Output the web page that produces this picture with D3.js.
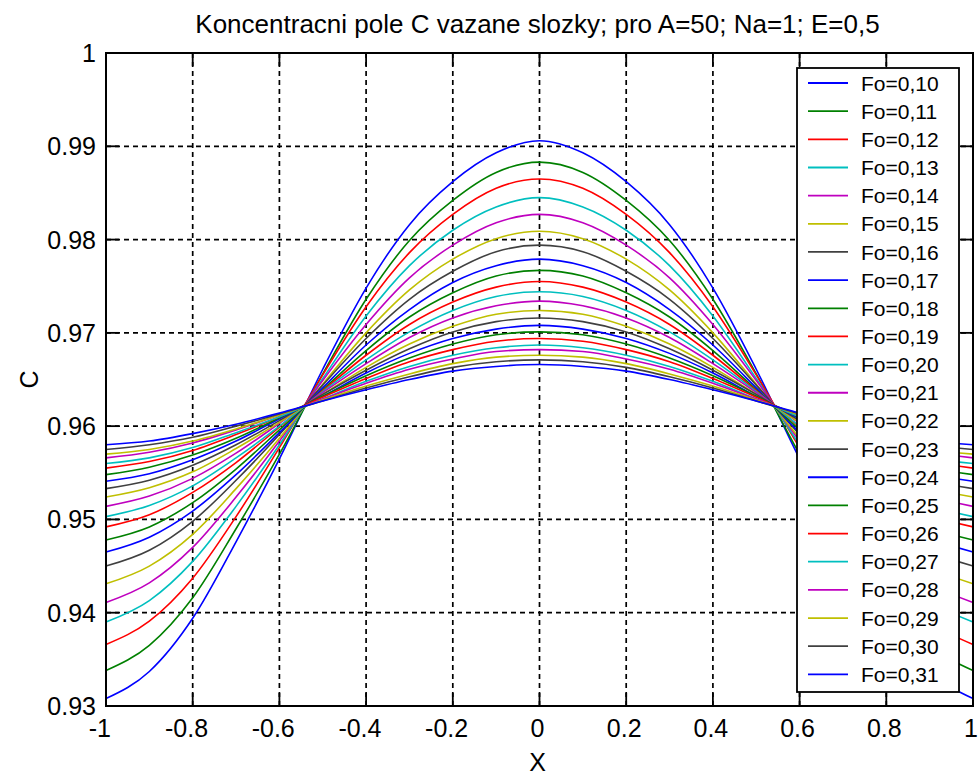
<!DOCTYPE html>
<html>
<head>
<meta charset="utf-8">
<script src="https://cdnjs.cloudflare.com/ajax/libs/d3/7.8.5/d3.min.js"></script>
<style>
  html, body { margin: 0; padding: 0; background: #fff; }
  text { font-family: "Liberation Sans", Arial, sans-serif; fill: #000; }
</style>
</head>
<body>
<div id="wrapper"></div>
<script>
// x positions along the slab
const xValues = [-1, -0.9, -0.8, -0.7, -0.6, -0.5, -0.4, -0.3, -0.2, -0.1, 0,
                 0.1, 0.2, 0.3, 0.4, 0.5, 0.6, 0.7, 0.8, 0.9, 1]

// one C profile per Fourier number
const fo10 = [.9308,.9337,.9394,.9476,.9565,.9661,.9748,.9816,.9862,.9893,.9906,.9893,.9862,.9816,.9748,.9661,.9565,.9476,.9394,.9337,.9308]
const fo11 = [.9338,.9365,.9416,.9490,.9570,.9656,.9736,.9799,.9842,.9872,.9883,.9872,.9842,.9799,.9736,.9656,.9570,.9490,.9416,.9365,.9338]
const fo12 = [.9366,.9391,.9437,.9503,.9577,.9655,.9728,.9786,.9827,.9855,.9865,.9855,.9827,.9786,.9728,.9655,.9577,.9503,.9437,.9391,.9366]
const fo13 = [.9390,.9413,.9455,.9514,.9580,.9651,.9718,.9772,.9810,.9835,.9845,.9835,.9810,.9772,.9718,.9651,.9580,.9514,.9455,.9413,.9390]
const fo14 = [.9411,.9432,.9470,.9524,.9584,.9649,.9709,.9759,.9794,.9818,.9827,.9818,.9794,.9759,.9709,.9649,.9584,.9524,.9470,.9432,.9411]
const fo15 = [.9431,.9450,.9484,.9533,.9587,.9645,.9700,.9746,.9779,.9801,.9809,.9801,.9779,.9746,.9700,.9645,.9587,.9533,.9484,.9450,.9431]
const fo16 = [.9450,.9467,.9498,.9542,.9591,.9644,.9694,.9736,.9766,.9787,.9794,.9787,.9766,.9736,.9694,.9644,.9591,.9542,.9498,.9467,.9450]
const fo17 = [.9465,.9481,.9509,.9548,.9593,.9641,.9687,.9725,.9754,.9772,.9779,.9772,.9754,.9725,.9687,.9641,.9593,.9548,.9509,.9481,.9465]
const fo18 = [.9478,.9492,.9518,.9554,.9596,.9639,.9681,.9717,.9743,.9761,.9767,.9761,.9743,.9717,.9681,.9639,.9596,.9554,.9518,.9492,.9478]
const fo19 = [.9492,.9505,.9529,.9561,.9599,.9638,.9676,.9709,.9733,.9749,.9755,.9749,.9733,.9709,.9676,.9638,.9599,.9561,.9529,.9505,.9492]
const fo20 = [.9503,.9515,.9536,.9566,.9600,.9637,.9671,.9701,.9724,.9739,.9744,.9739,.9724,.9701,.9671,.9637,.9600,.9566,.9536,.9515,.9503]
const fo21 = [.9514,.9525,.9544,.9571,.9603,.9636,.9667,.9695,.9716,.9729,.9734,.9729,.9716,.9695,.9667,.9636,.9603,.9571,.9544,.9525,.9514]
const fo22 = [.9524,.9534,.9551,.9576,.9604,.9634,.9663,.9688,.9707,.9720,.9724,.9720,.9707,.9688,.9663,.9634,.9604,.9576,.9551,.9534,.9524]
const fo23 = [.9533,.9542,.9558,.9580,.9606,.9634,.9660,.9683,.9701,.9712,.9716,.9712,.9701,.9683,.9660,.9634,.9606,.9580,.9558,.9542,.9533]
const fo24 = [.9541,.9549,.9564,.9584,.9608,.9632,.9657,.9678,.9694,.9704,.9708,.9704,.9694,.9678,.9657,.9632,.9608,.9584,.9564,.9549,.9541]
const fo25 = [.9548,.9556,.9569,.9587,.9609,.9632,.9654,.9673,.9688,.9698,.9701,.9698,.9688,.9673,.9654,.9632,.9609,.9587,.9569,.9556,.9548]
const fo26 = [.9555,.9562,.9574,.9591,.9610,.9631,.9651,.9669,.9682,.9691,.9694,.9691,.9682,.9669,.9651,.9631,.9610,.9591,.9574,.9562,.9555]
const fo27 = [.9560,.9566,.9577,.9593,.9610,.9629,.9648,.9664,.9676,.9684,.9687,.9684,.9676,.9664,.9648,.9629,.9610,.9593,.9577,.9566,.9560]
const fo28 = [.9566,.9572,.9582,.9596,.9612,.9629,.9646,.9661,.9672,.9680,.9682,.9680,.9672,.9661,.9646,.9629,.9612,.9596,.9582,.9572,.9566]
const fo29 = [.9570,.9575,.9584,.9597,.9612,.9628,.9643,.9656,.9667,.9674,.9676,.9674,.9667,.9656,.9643,.9628,.9612,.9597,.9584,.9575,.9570]
const fo30 = [.9575,.9580,.9588,.9600,.9613,.9627,.9641,.9653,.9663,.9669,.9671,.9669,.9663,.9653,.9641,.9627,.9613,.9600,.9588,.9580,.9575]
const fo31 = [.9580,.9584,.9592,.9602,.9614,.9627,.9639,.9650,.9659,.9664,.9666,.9664,.9659,.9650,.9639,.9627,.9614,.9602,.9592,.9584,.9580]

const seriesValues = [fo10, fo11, fo12, fo13, fo14, fo15, fo16, fo17, fo18, fo19, fo20,
                      fo21, fo22, fo23, fo24, fo25, fo26, fo27, fo28, fo29, fo30, fo31]
const seriesLabels = ["Fo=0,10","Fo=0,11","Fo=0,12","Fo=0,13","Fo=0,14","Fo=0,15","Fo=0,16","Fo=0,17",
                      "Fo=0,18","Fo=0,19","Fo=0,20","Fo=0,21","Fo=0,22","Fo=0,23","Fo=0,24","Fo=0,25",
                      "Fo=0,26","Fo=0,27","Fo=0,28","Fo=0,29","Fo=0,30","Fo=0,31"]

const xTicks = [-1, -0.8, -0.6, -0.4, -0.2, 0, 0.2, 0.4, 0.6, 0.8, 1]
const xTickLabels = ["-1","-0.8","-0.6","-0.4","-0.2","0","0.2","0.4","0.6","0.8","1"]
const yTicks = [0.93, 0.94, 0.95, 0.96, 0.97, 0.98, 0.99, 1]
const yTickLabels = ["0.93","0.94","0.95","0.96","0.97","0.98","0.99","1"]

// matlab default colour order
const colorOrder = ["#0000ff", "#008000", "#ff0000", "#00bfbf", "#bf00bf", "#bfbf00", "#404040"]

//chart dimensions
let dimensions = {
    width: 978,
    height: 775,
    margin: { top: 53, right: 5, bottom: 69, left: 106 }
}
dimensions.boundedWidth = dimensions.width - dimensions.margin.left - dimensions.margin.right
dimensions.boundedHeight = dimensions.height - dimensions.margin.top - dimensions.margin.bottom

const svg = d3.select("#wrapper").append("svg")
    .attr("width", dimensions.width)
    .attr("height", dimensions.height)

svg.append("rect").attr("width", dimensions.width).attr("height", dimensions.height).attr("fill", "#fff")

const bounds = svg.append("g")
    .attr("transform", `translate(${dimensions.margin.left},${dimensions.margin.top})`)

const xScale = d3.scaleLinear().domain([-1, 1]).range([0, dimensions.boundedWidth])
const yScale = d3.scaleLinear().domain([0.93, 1]).range([dimensions.boundedHeight, 0])

// grid
const grid = bounds.append("g")
grid.selectAll(".vgrid").data(xTicks.slice(1, -1)).join("line")
    .attr("x1", d => xScale(d)).attr("x2", d => xScale(d))
    .attr("y1", 0).attr("y2", dimensions.boundedHeight)
grid.selectAll(".hgrid").data(yTicks.slice(1, -1)).join("line")
    .attr("x1", 0).attr("x2", dimensions.boundedWidth)
    .attr("y1", d => yScale(d)).attr("y2", d => yScale(d))
grid.selectAll("line")
    .attr("stroke", "#000").attr("stroke-width", 1.7).attr("stroke-dasharray", "5,4")

// curves
const lineGenerator = d3.line()
    .x((d, i) => xScale(xValues[i]))
    .y(d => yScale(d))
    .curve(d3.curveMonotoneX)

bounds.append("g").selectAll("path").data(seriesValues).join("path")
    .attr("d", d => lineGenerator(d))
    .attr("fill", "none")
    .attr("stroke", (d, i) => colorOrder[i % colorOrder.length])
    .attr("stroke-width", 1.6)

// inside ticks on all four sides
const tickLen = 13
const ticks = bounds.append("g").attr("stroke", "#000").attr("stroke-width", 1.8)
xTicks.forEach(t => {
    ticks.append("line").attr("x1", xScale(t)).attr("x2", xScale(t))
        .attr("y1", dimensions.boundedHeight).attr("y2", dimensions.boundedHeight - tickLen)
    ticks.append("line").attr("x1", xScale(t)).attr("x2", xScale(t))
        .attr("y1", 0).attr("y2", tickLen)
})
yTicks.forEach(t => {
    ticks.append("line").attr("x1", 0).attr("x2", tickLen)
        .attr("y1", yScale(t)).attr("y2", yScale(t))
    ticks.append("line").attr("x1", dimensions.boundedWidth).attr("x2", dimensions.boundedWidth - tickLen)
        .attr("y1", yScale(t)).attr("y2", yScale(t))
})

// legend
const legend = bounds.append("g").attr("transform", "translate(691,15)")
legend.append("rect")
    .attr("width", 162).attr("height", 624)
    .attr("fill", "#fff").attr("stroke", "#000").attr("stroke-width", 1.8)
const legendItems = legend.selectAll(".item").data(seriesLabels).join("g")
    .attr("transform", (d, i) => `translate(0,${15 + i * 28.16})`)
legendItems.append("line")
    .attr("x1", 11).attr("x2", 51).attr("y1", 0).attr("y2", 0)
    .attr("stroke", (d, i) => colorOrder[i % colorOrder.length]).attr("stroke-width", 1.8)
legendItems.append("text")
    .attr("x", 64).attr("y", 0).attr("dy", "0.36em")
    .style("font-size", "21px")
    .text(d => d)

// box
bounds.append("rect")
    .attr("width", dimensions.boundedWidth).attr("height", dimensions.boundedHeight)
    .attr("fill", "none").attr("stroke", "#000").attr("stroke-width", 2)

// tick labels
const xLabels = bounds.append("g").style("font-size", "25px")
xTicks.forEach((t, i) => {
    const lab = xTickLabels[i]
    const txt = xLabels.append("text").attr("y", dimensions.boundedHeight + 31).text(lab.replace("-", ""))
    const w = txt.node().getComputedTextLength()
    txt.text(lab).attr("text-anchor", "end").attr("x", xScale(t) + w / 2 - 2)
})
bounds.append("g").style("font-size", "25px").selectAll("text").data(yTicks).join("text")
    .attr("x", -10).attr("y", d => yScale(d)).attr("dy", "0.36em")
    .attr("text-anchor", "end")
    .text((d, i) => yTickLabels[i])

// title and axis labels
svg.append("text")
    .attr("x", dimensions.margin.left + dimensions.boundedWidth / 2 - 2).attr("y", 33)
    .attr("text-anchor", "middle").style("font-size", "26px")
    .text("Koncentracni pole C vazane slozky; pro A=50; Na=1; E=0,5")
svg.append("text")
    .attr("x", dimensions.margin.left + dimensions.boundedWidth / 2 - 2).attr("y", 771)
    .attr("text-anchor", "middle").style("font-size", "25px")
    .text("X")
svg.append("text")
    .attr("transform", `translate(38,${dimensions.margin.top + dimensions.boundedHeight / 2}) rotate(-90)`)
    .attr("text-anchor", "middle").style("font-size", "25px")
    .text("C")
</script>
</body>
</html>
